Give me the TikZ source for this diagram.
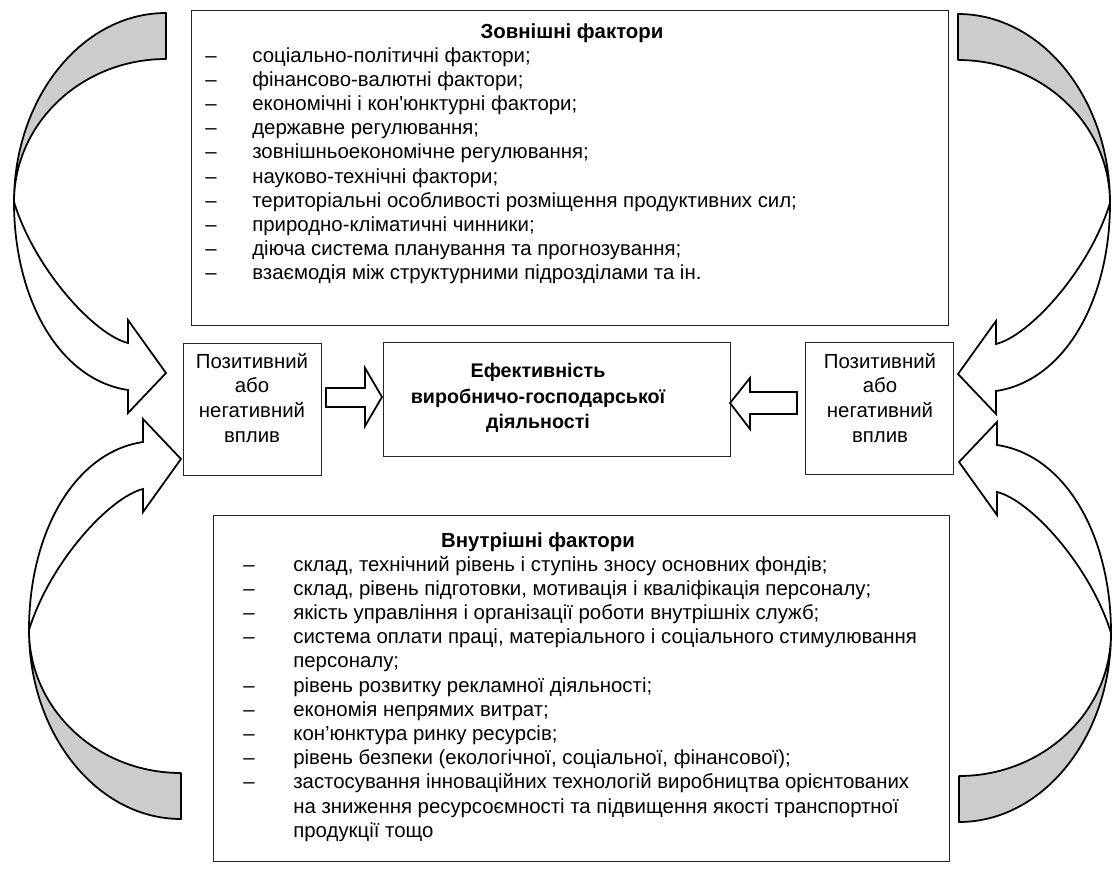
\documentclass[tikz,border=0pt]{standalone}
\usepackage{fontspec}
\newfontfamily\arialf{Liberation Sans}
\newcommand\curvedarrowshape{%
  \filldraw[band] (152,-189) .. controls (68,-189) and (0,-104) .. (0,0)
     .. controls (0,-79) and (68,-143) .. (152,-143) -- cycle;
  \filldraw[face] (0,0) .. controls (0,98) and (46,178) .. (114,188)
     -- (114,211) -- (152,171) -- (114,118) -- (114,141)
     .. controls (81,133) and (21,68) .. (0,0) -- cycle;
}
\begin{document}
\begin{tikzpicture}[x=0.02cm, y=-0.02cm,
  box/.style={draw=black!85, line width=0.55pt, fill=white, inner sep=0pt},
  band/.style={draw=black, line width=1pt, fill=black!20, line join=round},
  face/.style={draw=black, line width=1pt, fill=white, line join=miter},
  blockarrow/.style={draw=black, line width=1pt, fill=white, line join=miter},
  listline/.style={font=\arialf\fontsize{11.6}{13.7}\selectfont, inner sep=0pt, anchor=base west},
  listtitle/.style={font=\arialf\bfseries\fontsize{11.6}{13.7}\selectfont, inner sep=0pt, anchor=base},
  midtext/.style={font=\arialf\fontsize{11.6}{14.2}\selectfont, inner sep=0pt, align=center},
  centertext/.style={font=\arialf\bfseries\fontsize{11.2}{14.5}\selectfont, inner sep=0pt, align=center}
]
\useasboundingbox (0,0) rectangle (1112,872);

% boxes
\node[box, minimum width=15.16cm, minimum height=6.32cm] (ext) at (570,168) {};
\node[box, minimum width=2.76cm, minimum height=2.64cm] (lmid) at (252,409) {};
\node[box, minimum width=6.96cm, minimum height=2.28cm] (eff) at (557,399) {};
\node[box, minimum width=2.96cm, minimum height=2.64cm] (rmid) at (879,408) {};
\node[box, minimum width=14.74cm, minimum height=6.94cm] (int) at (581.5,688.5) {};

% curved arrows
\begin{scope}[shift={(14,202)}]
  \curvedarrowshape
\end{scope}
\begin{scope}[shift={(29,630)}, yscale=-1]
  \curvedarrowshape
\end{scope}
\begin{scope}[shift={(1110,203)}, xscale=-1]
  \curvedarrowshape
\end{scope}
\begin{scope}[shift={(1111,633)}, xscale=-1, yscale=-1]
  \curvedarrowshape
\end{scope}

% straight block arrows
\draw[blockarrow] (326,388) -- (365,388) -- (365,368) -- (382,397) -- (365,426)
   -- (365,407) -- (326,407) -- cycle;
\draw[blockarrow] (797,392) -- (750,392) -- (750,378) -- (730,403) -- (750,429)
   -- (750,414) -- (797,414) -- cycle;

% middle texts
\node[midtext] (ltext) at (252,398) {Позитивний\\або\\негативний\\вплив};
\node[midtext] (rtext) at (880,398) {Позитивний\\або\\негативний\\вплив};
\node[centertext] (efftext) at (538,398) {Ефективність\\виробничо-господарської\\діяльності};

% external factors
\node[listtitle] (exttitle) at (572,38) {Зовнішні фактори};
\foreach \t [count=\i] in {
  {соціально-політичні фактори;},
  {фінансово-валютні фактори;},
  {економічні і кон'юнктурні фактори;},
  {державне регулювання;},
  {зовнішньоекономічне регулювання;},
  {науково-технічні фактори;},
  {територіальні особливості розміщення продуктивних сил;},
  {природно-кліматичні чинники;},
  {діюча система планування та прогнозування;},
  {взаємодія між структурними підрозділами та ін.}}{
  \node[listline] (extdash\i) at (205,{62+24.2*(\i-1)}) {–};
  \node[listline] (extitem\i) at (252,{62+24.2*(\i-1)}) {\t};
}

% internal factors
\node[listtitle] (inttitle) at (538,547) {Внутрішні фактори};
\foreach \d/\t [count=\i] in {
  1/{склад, технічний рівень і ступінь зносу основних фондів;},
  1/{склад, рівень підготовки, мотивація і кваліфікація персоналу;},
  1/{якість управління і організації роботи внутрішніх служб;},
  1/{система оплати праці, матеріального і соціального стимулювання},
  0/{персоналу;},
  1/{рівень розвитку рекламної діяльності;},
  1/{економія непрямих витрат;},
  1/{кон’юнктура ринку ресурсів;},
  1/{рівень безпеки (екологічної, соціальної, фінансової);},
  1/{застосування інноваційних технологій виробництва орієнтованих},
  0/{на зниження ресурсоємності та підвищення якості транспортної},
  0/{продукції тощо}}{
  \ifnum\d=1
    \node[listline] (intdash\i) at (243,{571+24.2*(\i-1)}) {–};
  \fi
  \node[listline] (intitem\i) at (293,{571+24.2*(\i-1)}) {\t};
}
\end{tikzpicture}
\end{document}
